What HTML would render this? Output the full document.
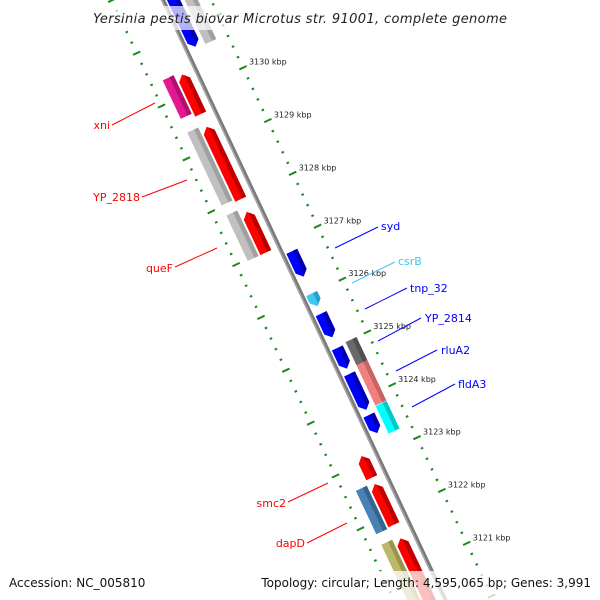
<!DOCTYPE html>
<html><head><meta charset="utf-8"><style>
html,body{margin:0;padding:0;background:#fff;width:600px;height:600px;overflow:hidden}
svg{display:block;font-family:"DejaVu Sans","Liberation Sans",sans-serif}
</style></head><body>
<svg id="map" width="600" height="600" viewBox="0 0 600 600" overflow="hidden" xmlns="http://www.w3.org/2000/svg">
<g id="marks"></g>
<g id="labels">
<g fill="none" stroke="#ff0000" stroke-width="1">
<line x1="112" y1="125" x2="155" y2="103"/><line x1="142" y1="197" x2="187" y2="180"/><line x1="175" y1="267" x2="217" y2="248"/><line x1="288" y1="502" x2="328" y2="483"/><line x1="307" y1="543" x2="347" y2="523"/>
</g>
<g font-size="11" fill="#ff0000" text-anchor="end">
<text x="110" y="129">xni</text>
<text x="140" y="201">YP_2818</text>
<text x="173" y="272">queF</text>
<text x="286" y="507">smc2</text>
<text x="305" y="547">dapD</text>
</g>
<g stroke="#0000ff" stroke-width="1">
<line x1="335" y1="248" x2="378" y2="227"/><line x1="352" y1="283" x2="395" y2="262" stroke="#3cc8f0"/><line x1="365" y1="309" x2="407" y2="288"/><line x1="378" y1="341" x2="421" y2="318"/><line x1="396" y1="371" x2="437" y2="350"/><line x1="412" y1="407" x2="455" y2="384"/>
</g>
<g font-size="11" fill="#0000ff">
<text x="381" y="230">syd</text>
<text x="398" y="265" fill="#3cc8f0">csrB</text>
<text x="410" y="292">tnp_32</text>
<text x="425" y="322">YP_2814</text>
<text x="441" y="354">rluA2</text>
<text x="458" y="388">fldA3</text>
</g>
</g>
<rect x="88" y="6" width="424" height="24" fill="#fff" opacity="0.7"/>
<text x="300" y="23" text-anchor="middle" font-style="italic" font-size="13" fill="#222" textLength="414">Yersinia pestis biovar Microtus str. 91001, complete genome</text>
<rect x="0" y="571" width="600" height="29" fill="#fff" opacity="0.75"/>
<text x="9" y="587" font-size="12" fill="#111">Accession: NC_005810</text>
<text x="591" y="587" font-size="12" fill="#111" text-anchor="end">Topology: circular; Length: 4,595,065 bp; Genes: 3,991</text>
</svg>
<script>
const majorTicks=[3132,3131,3130,3129,3128,3127,3126,3125,3124,3123,3122,3121,3120];
const tickLabels=["3132 kbp","3131 kbp","3130 kbp","3129 kbp","3128 kbp","3127 kbp","3126 kbp","3125 kbp","3124 kbp","3123 kbp","3122 kbp","3121 kbp","3120 kbp"];
const featNames=["top-blue","top-gray","pink","xni","yp2818-gray","yp2818","quef-gray","quef","red-small","smc2-blue","smc2","khaki","dapd","syd","csrb","tnp32","yp2814","rlua2","flda3","darkgray","salmon","cyan"];
const featStart=[3132.3,3132.3,3130.39,3130.34,3129.40,3129.35,3127.83,3127.74,3123.12,3122.62,3122.59,3121.60,3121.56,3126.80,3126.00,3125.62,3124.97,3124.48,3123.70,3125.00,3124.56,3123.79];
const featEnd=[3130.67,3130.64,3129.66,3129.59,3128.02,3127.98,3126.97,3126.97,3122.71,3121.80,3121.82,3119.6,3119.6,3126.32,3125.76,3125.17,3124.58,3123.80,3123.36,3124.56,3123.80,3123.27];
const featTrack=["r1","r2","l2","l1","l2","l1","l2","l1","l1","l2","l1","l2","l1","r1","r1","r1","r1","r1","r1","r2","r2","r2"];
const featColor=["#0000ff","#c0c0c0","#e6178f","#ff0000","#c0c0c0","#ff0000","#c0c0c0","#ff0000","#ff0000","#4682b4","#ff0000","#bdb76b","#ff0000","#0000ff","#3cc8f0","#0000ff","#0000ff","#0000ff","#0000ff","#696969","#f08080","#00ffff"];
const featDark=["#0000b0","#a0a0a0","#b01070","#c00000","#a0a0a0","#c00000","#a0a0a0","#c00000","#c00000","#36648f","#c00000","#9a9450","#c00000","#0000b0","#2aa0c8","#0000b0","#0000b0","#0000b0","#0000b0","#505050","#c86464","#00c8c8"];
const featArrow=[1,0,0,-1,0,-1,0,-1,-1,0,-1,0,-1,1,1,1,1,1,1,0,0,0];

const C=Math.cos(25.2*Math.PI/180),S=Math.sin(25.2*Math.PI/180);
function kToLy(k){return 210+(3128-k)*58.4;}
function xy(lx,ly){return [lx*C+ly*S+168,-lx*S+ly*C];}
const trackX={r1:5,r2:21,l1:-19,l2:-33};
const NS="http://www.w3.org/2000/svg";
const g=document.getElementById('marks');
function poly(pts,fill){const p=document.createElementNS(NS,'polygon');p.setAttribute('points',pts.map(q=>xy(q[0],q[1]).join(',')).join(' '));p.setAttribute('fill',fill);return p;}

const b=document.createElementNS(NS,'g');


b.appendChild(poly([[-6.5,-40],[-2.5,-40],[-2.5,670],[-6.5,670]],'#7a7a7a'));
b.appendChild(poly([[-6.5,-40],[-5,-40],[-5,670],[-6.5,670]],'#a8a8a8'));
g.appendChild(b);

for(const ring of [39,-51]){
  for(let k=3133*5;k>=3120*5;k--){
    const kb=k/5, ly=kToLy(kb);
    const major=(k%5===0);
    const h=major?4:1.3;
    const t=document.createElementNS(NS,'g');
    
    
    t.appendChild(poly([[ring-h,ly-1],[ring+h,ly-1],[ring+h,ly+1],[ring-h,ly+1]],'#1a8a1a'));
    g.appendChild(t);
  }
}
majorTicks.forEach((k,i)=>{
  const p=xy(39,kToLy(k));
  if(p[1]<35||p[1]>565) return;
  const t=document.createElementNS(NS,'text');
  
  
  t.setAttribute('x',p[0]+6);t.setAttribute('y',p[1]-3);
  t.setAttribute('font-size','8');t.setAttribute('fill','#222');
  t.textContent=tickLabels[i];
  g.appendChild(t);
});

featNames.forEach((n,i)=>{
  const c=trackX[featTrack[i]];
  let a=kToLy(featStart[i]),e=kToLy(featEnd[i]);
  const fg=document.createElementNS(NS,'g');
  
  
  const w=6,hl=Math.min(6,(e-a)/2);
  let full,dark;
  if(featArrow[i]===1){
    full=[[c-w,a],[c+w,a],[c+w,e-hl],[c,e],[c-w,e-hl]];
    dark=[[c+1.5,a],[c+w,a],[c+w,e-hl],[c+1.5,e-hl*0.25]];
  }else if(featArrow[i]===-1){
    full=[[c,a],[c+w,a+hl],[c+w,e],[c-w,e],[c-w,a+hl]];
    dark=[[c+1.5,a+hl*0.25],[c+w,a+hl],[c+w,e],[c+1.5,e]];
  }else{
    full=[[c-w,a],[c+w,a],[c+w,e],[c-w,e]];
    dark=[[c+1.5,a],[c+w,a],[c+w,e],[c+1.5,e]];
  }
  fg.appendChild(poly(full,featColor[i]));
  fg.appendChild(poly(dark,featDark[i]));
  g.appendChild(fg);
});
</script>
</body></html>
